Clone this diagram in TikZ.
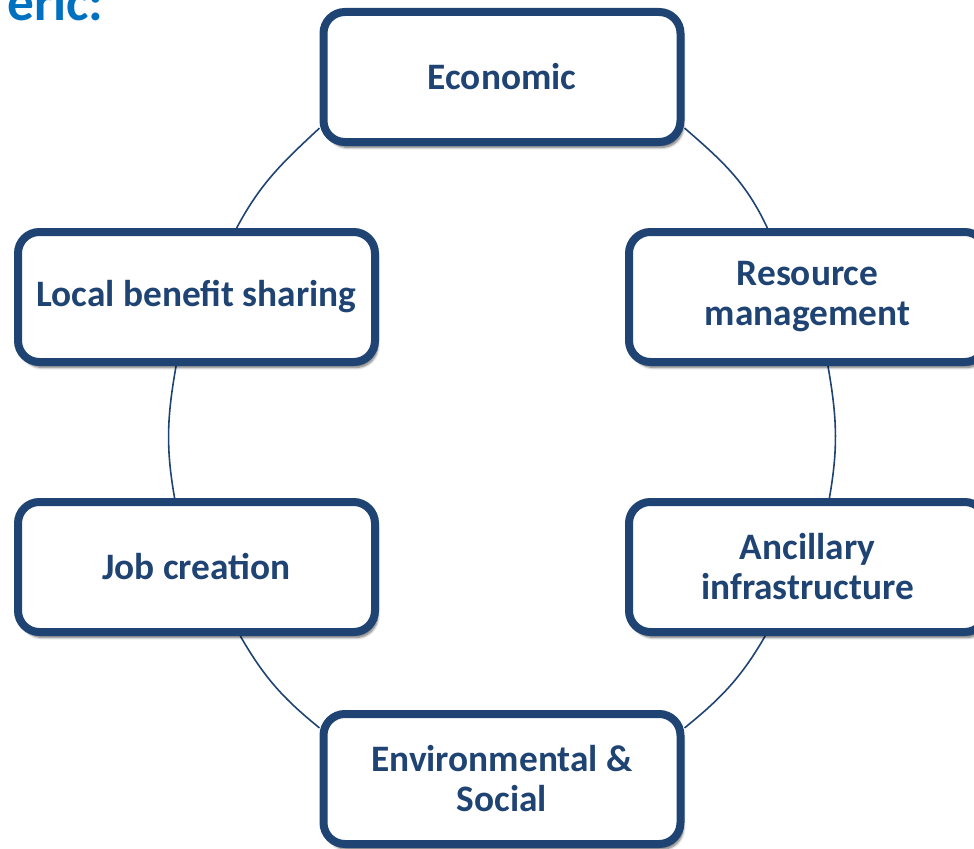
\documentclass[tikz,border=0pt]{standalone}
\usepackage{fontspec}
\setmainfont{Carlito}
\usetikzlibrary{calc,shadows.blur,backgrounds}
\definecolor{navy}{RGB}{31,68,115}
\definecolor{titleblue}{RGB}{0,112,192}
\tikzset{
  pillar/.style={draw=navy, line width=6pt, rounded corners=16pt, fill=white,
    minimum width=267.75pt, minimum height=97.5pt, align=center, text=navy,
    font=\fontsize{28}{30}\selectfont\bfseries,
    blur shadow={shadow xshift=2pt, shadow yshift=-4pt, shadow blur steps=8, shadow opacity=60}},
  link/.style={draw=navy, line width=1.2pt}
}

\begin{document}
\begin{tikzpicture}[x=0.75pt, y=0.75pt]
  \clip (0,0) rectangle (974,-849);
  \useasboundingbox (0,0) rectangle (974,-849);

  % title, cut by the top edge
  \node[anchor=base east, inner sep=0pt, text=titleblue,
    font=\fontsize{40}{44}\selectfont\bfseries] (title) at (104,-21) {eric:};

  % the six boxes
  \node[pillar] (eco) at (502,-77)    {Economic};
  \node[pillar] (res) at (807.5,-297) {Resource\\management};
  \node[pillar] (anc) at (807.5,-567) {Ancillary\\infrastructure};
  \node[pillar] (env) at (502,-779)   {Environmental \&\\Social};
  \node[pillar] (job) at (196.5,-567) {Job creation};
  \node[pillar] (loc) at (196.5,-297) {Local benefit sharing};

  % ring behind the boxes
  \begin{pgfonlayer}{background}
    \draw[link] ($(loc.north west)!0.61!(loc.north east)$) to[out=62, in=223]
      ($(eco.north west)!0.87!(eco.south west)$);
    \draw[link] ($(eco.north east)!0.87!(eco.south east)$) to[out=-41, in=115]
      ($(res.north west)!0.39!(res.north east)$);
    \draw[link] ($(res.south west)!0.556!(res.south east)$) to[out=-80, in=80]
      ($(anc.north west)!0.56!(anc.north east)$);
    \draw[link] ($(anc.south west)!0.384!(anc.south east)$) to[out=-120, in=39]
      ($(env.north east)!0.13!(env.south east)$);
    \draw[link] ($(job.south west)!0.62!(job.south east)$) to[out=-60, in=141]
      ($(env.north west)!0.13!(env.south west)$);
    \draw[link] ($(loc.south west)!0.444!(loc.south east)$) to[out=-100, in=100]
      ($(job.north west)!0.44!(job.north east)$);
  \end{pgfonlayer}
\end{tikzpicture}
\end{document}
